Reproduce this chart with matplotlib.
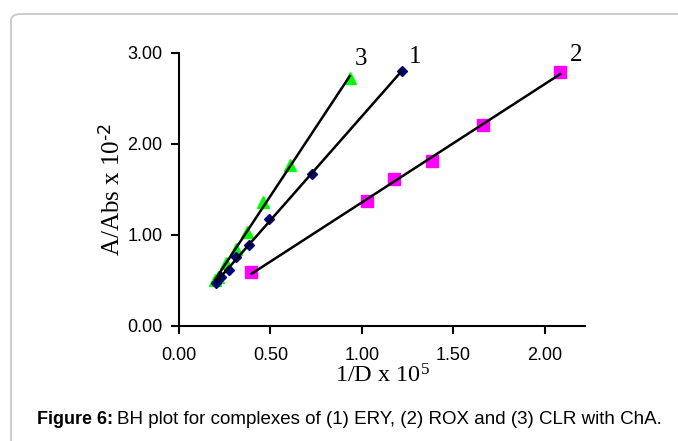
import numpy as np
import matplotlib.pyplot as plt
from matplotlib.patches import FancyBboxPatch

# data
x1 = [0.203, 0.23, 0.274, 0.309, 0.38, 0.493, 0.727, 1.22]
y1 = [0.47, 0.54, 0.61, 0.76, 0.89, 1.17, 1.67, 2.80]
x2 = [0.396, 1.025, 1.174, 1.383, 1.66, 2.084]
y2 = [0.59, 1.37, 1.61, 1.81, 2.21, 2.79]
x3 = [0.197, 0.212, 0.258, 0.31, 0.373, 0.46, 0.608, 0.933]
y3 = [0.50, 0.54, 0.69, 0.84, 1.03, 1.36, 1.77, 2.72]

xticks = [0.0, 0.5, 1.0, 1.5, 2.0]
yticks = [0.0, 1.0, 2.0, 3.0]

plt.rcParams['mathtext.default'] = 'regular'

fig = plt.figure(figsize=(6.78, 4.41), dpi=100)
ax = fig.add_axes([0.264, 0.2608, 0.599, 0.6197])

# markers first, trend lines on top
ax.plot(x3, y3, '^', color='#00ff00', markersize=8, zorder=2)
ax.plot(x1, y1, 'D', color='#000080', markersize=5.5, zorder=2)
ax.plot(x2, y2, 's', color='#ff00ff', markersize=8, zorder=2)

for xs, ys in [(x1, y1), (x2, y2), (x3, y3)]:
    k, b = np.polyfit(xs, ys, 1)
    xx = np.array([min(xs), max(xs)])
    ax.plot(xx, k * xx + b, color='black', lw=1.8, zorder=3)

ax.text(0.997, 2.935, '3', fontsize=18, family='Liberation Serif', ha='center', va='center')
ax.text(1.293, 2.95, '1', fontsize=18, family='Liberation Serif', ha='center', va='center')
ax.text(2.17, 2.97, '2', fontsize=18, family='Liberation Serif', ha='center', va='center')

ax.set_xlim(0, 2.22)
ax.set_ylim(0, 3.0)
ax.set_xticks(xticks)
ax.set_yticks(yticks)
ax.set_xticklabels(['%.2f' % v for v in xticks], family='Liberation Sans', fontsize=13)
ax.set_yticklabels(['%.2f' % v for v in yticks], family='Liberation Sans', fontsize=13)
ax.tick_params(direction='out', length=6, width=1.5, pad=6)
ax.tick_params(axis='x', pad=9)
ax.spines['top'].set_visible(False)
ax.spines['right'].set_visible(False)
ax.spines['left'].set_linewidth(1.5)
ax.spines['bottom'].set_linewidth(1.5)

ax.set_xlabel(r'1/D x $10^5$', family='Liberation Serif', fontsize=17.5, labelpad=0.5)
ax.set_ylabel(r'A/Abs x $10^{\text{-2}}$', family='Liberation Serif', fontsize=18, labelpad=2)

# rounded frame round the figure
frame = FancyBboxPatch((11 / 678, -0.2), 1.1, 1.2 - 14 / 441,
                       boxstyle='round,pad=0,rounding_size=0.015',
                       transform=fig.transFigure, fill=False,
                       edgecolor='#c8c8c8', lw=1.3)
fig.patches.append(frame)

t1 = fig.text(0.0546, 0.048, 'Figure 6:', family='Liberation Sans', weight='bold', fontsize=13, va='center')
fig.canvas.draw()
bb = t1.get_window_extent().transformed(fig.transFigure.inverted())
fig.text(bb.x1 + 0.006, 0.048, 'BH plot for complexes of (1) ERY, (2) ROX and (3) CLR with ChA.',
         family='Liberation Sans', fontsize=13.5, va='center')

fig.savefig('out.png', dpi=100)
